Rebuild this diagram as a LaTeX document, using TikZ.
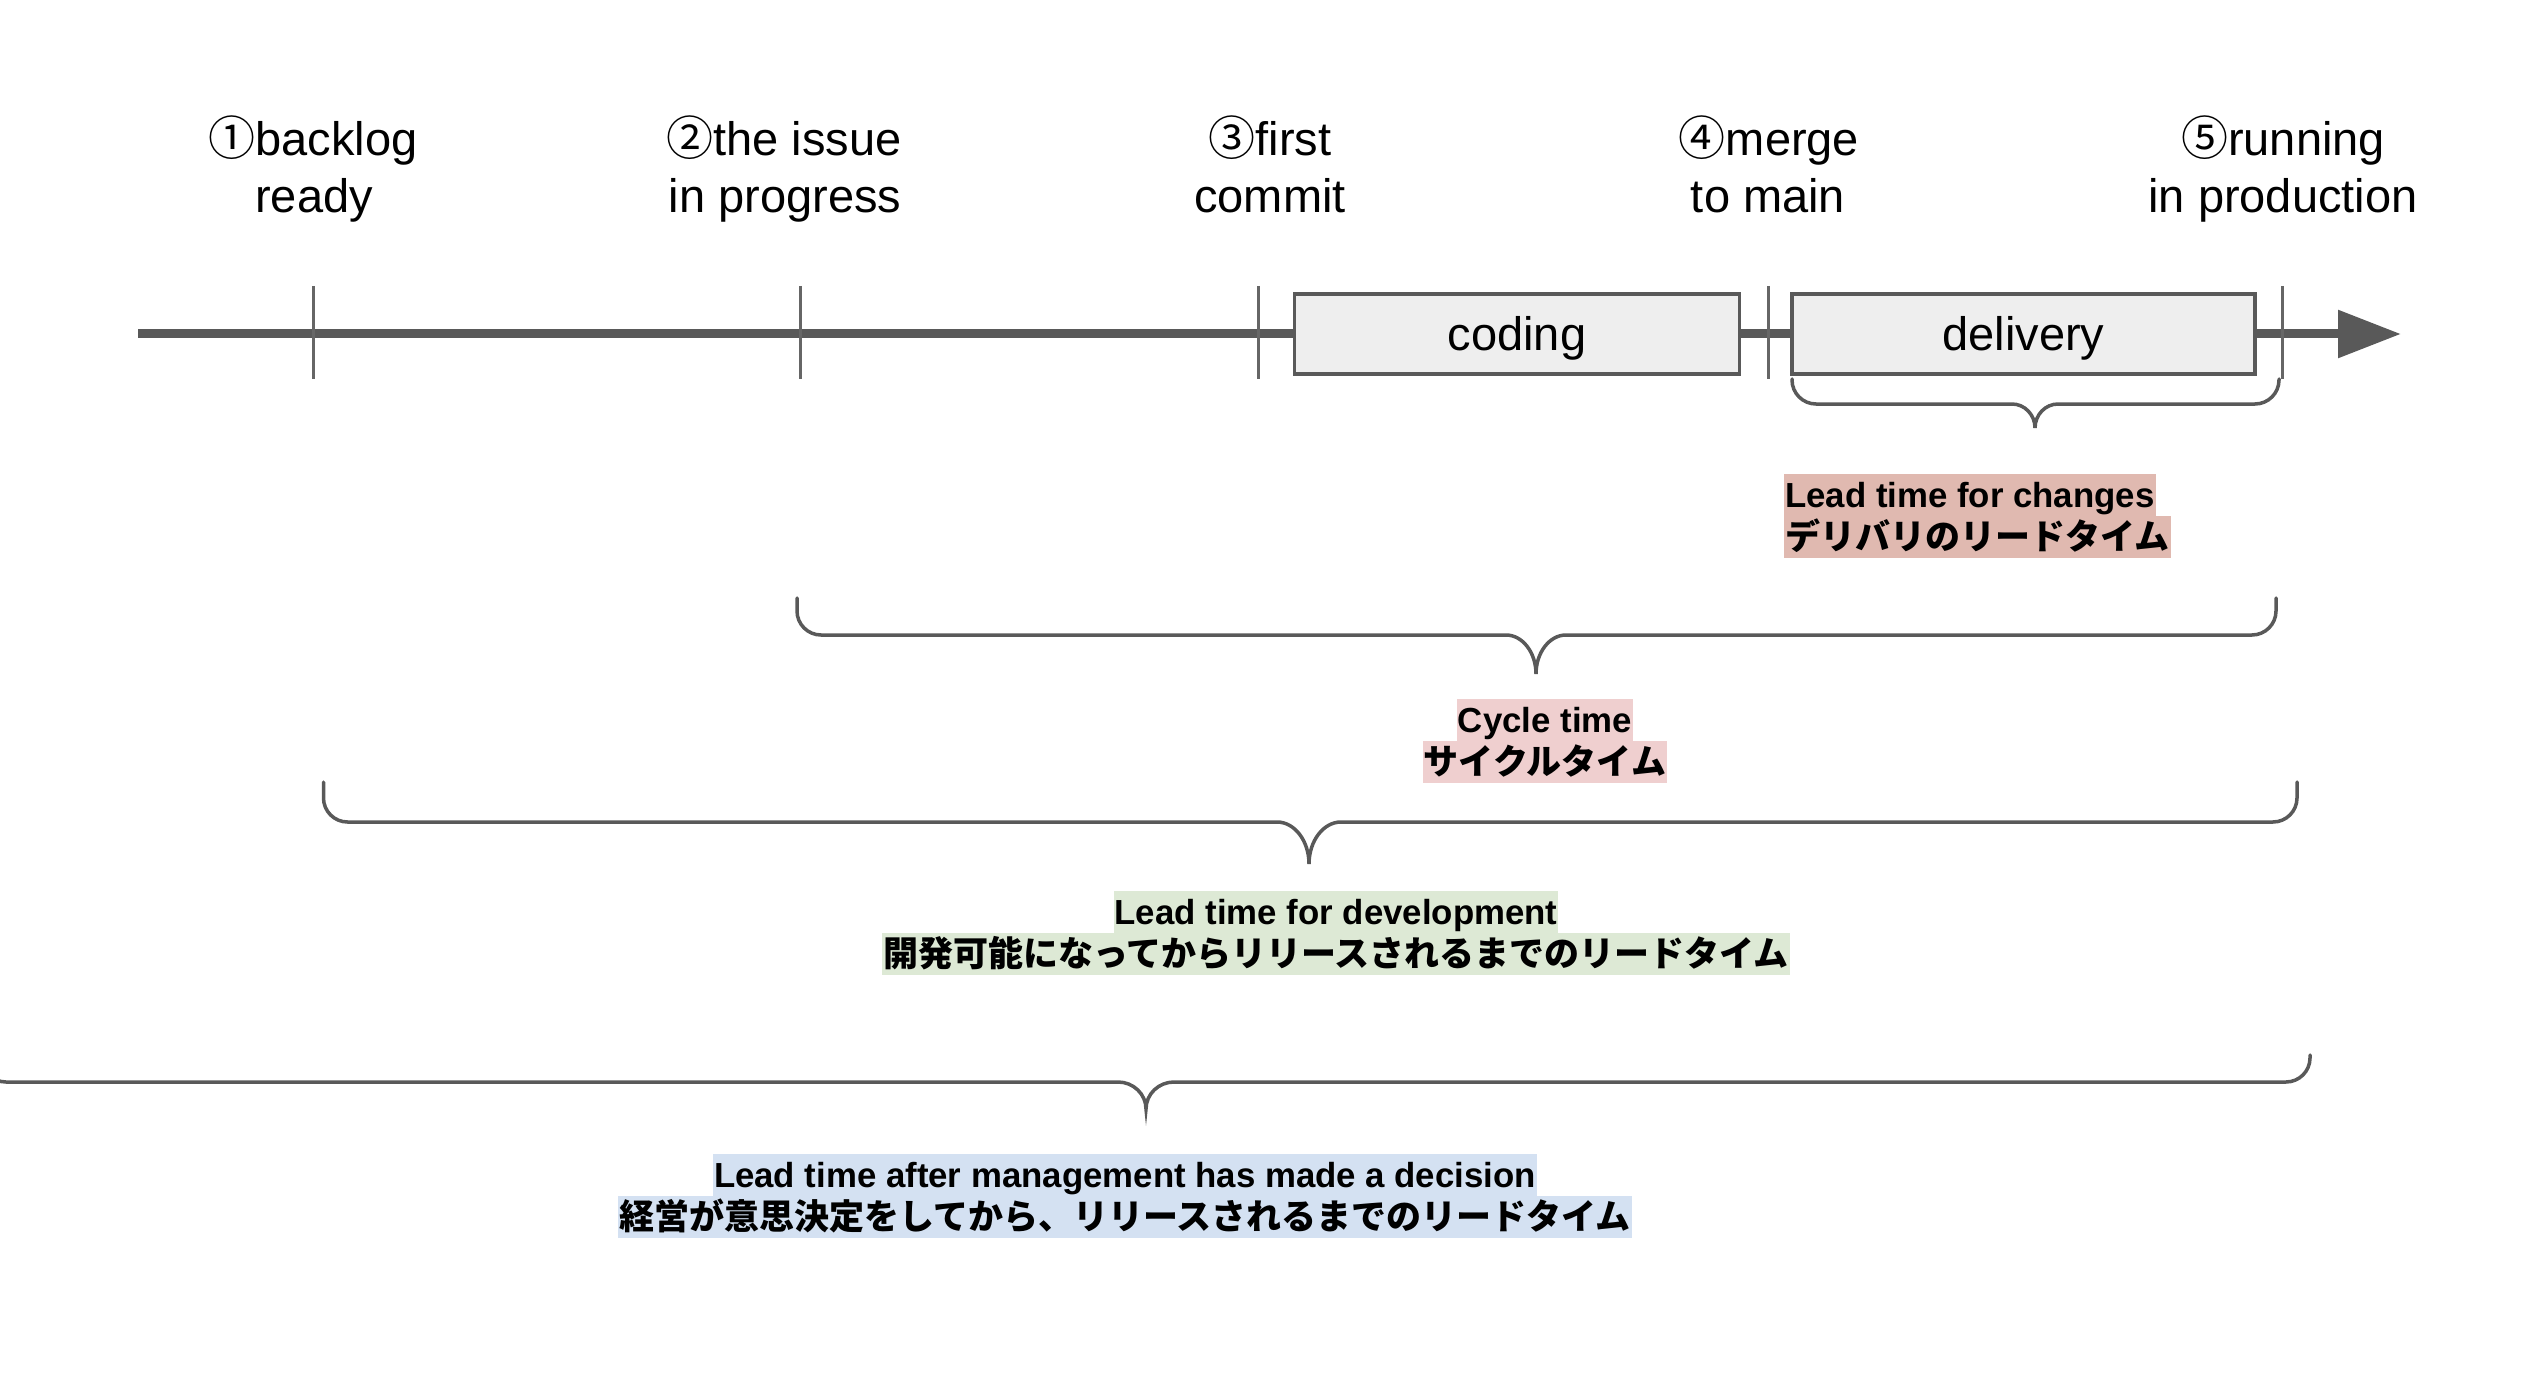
\documentclass[tikz,border=0pt]{standalone}
\usepackage{fontspec}
\setmainfont{Liberation Sans}
\newfontfamily\jp{Noto Sans CJK JP}
\usetikzlibrary{arrows.meta}
\definecolor{axis}{HTML}{595959}
\definecolor{tickc}{HTML}{666666}
\definecolor{boxfill}{HTML}{EEEEEE}
\definecolor{cchg}{HTML}{E0B9B0}
\definecolor{ccyc}{HTML}{EFCFCF}
\definecolor{cdev}{HTML}{DDE9D5}
\definecolor{cmgt}{HTML}{D4E1F2}
\newcommand{\mybrace}[7]{% x1, x2, ytop, yh, xtip, ytip, c
  \draw[bracest] (#1,#3) -- (#1,{#4-24}) .. controls (#1,{#4-10.8}) and ({#1+10.8},#4) .. ({#1+24},#4)
    -- ({#5-#7},#4) .. controls ({#5-0.45*#7},#4) and (#5,{#4+0.45*(#6-#4)}) .. (#5,#6)
    .. controls (#5,{#4+0.45*(#6-#4)}) and ({#5+0.45*#7},#4) .. ({#5+#7},#4)
    -- ({#2-24},#4) .. controls ({#2-10.8},#4) and (#2,{#4-10.8}) .. (#2,{#4-24}) -- (#2,#3);}
\begin{document}
\begin{tikzpicture}[x=1pt,y=-1pt,
  toplabel/.style={font=\fontsize{47}{57}\selectfont, anchor=base, inner sep=0pt},
  phase/.style={draw=axis, fill=boxfill, line width=3.5pt, inner sep=0pt,
    text height=57pt, text depth=23pt, font=\fontsize{47}{57}\selectfont},
  tickst/.style={draw=tickc, line width=3pt},
  bracest/.style={draw=axis, line width=3.5pt, line cap=round},
  hl/.style={font=\fontsize{34.8}{42}\selectfont\bfseries, anchor=base, inner xsep=1pt, inner ysep=0pt,
    text height=33pt, text depth=9pt},
  hljp/.style={hl, font=\fontsize{35}{42}\selectfont\jp\bfseries}]
\useasboundingbox (0,0) rectangle (2548,1396);
\clip (0,0) rectangle (2548,1396);

% timeline
\coordinate (tlstart) at (138,334);
\coordinate (tlend) at (2401,334);
\draw[axis, line width=9pt, -{Triangle[length=63pt,width=46pt]}] (tlstart) -- (tlend);

% ticks
\draw[tickst] (313.5,286) -- (313.5,379);
\draw[tickst] (800,286) -- (800,379);
\draw[tickst] (1258,286) -- (1258,379);
\draw[tickst] (1768,286) -- (1768,379);
\draw[tickst] (2282.5,286) -- (2282.5,379);

% phase boxes
\node[phase, minimum width=445pt] (coding) at (1517,334) {coding};
\node[phase, minimum width=463pt] (delivery) at (2023.5,334) {delivery};

% milestone labels
\node[toplabel] (m1a) at (313,156) {{\jp ①}backlog};
\node[toplabel] (m1b) at (314,213) {ready};
\node[toplabel] (m2a) at (784,156) {{\jp ②}the issue};
\node[toplabel] (m2b) at (785,213) {in progress};
\node[toplabel] (m3a) at (1270,156) {{\jp ③}first};
\node[toplabel] (m3b) at (1270,213) {commit};
\node[toplabel] (m4a) at (1769,156) {{\jp ④}merge};
\node[toplabel] (m4b) at (1768,213) {to main};
\node[toplabel] (m5a) at (2283,156) {{\jp ⑤}running};
\node[toplabel] (m5b) at (2283,213) {in production};

% braces
\mybrace{1792}{2279}{379}{404}{2035}{428}{23}
\mybrace{797}{2276}{598}{635}{1536}{674}{30}
\mybrace{323.5}{2297}{782}{822}{1309}{864}{32}
\mybrace{-18}{2310}{1055}{1082}{1146}{1109}{28}

% measure labels
\node[hl, fill=cchg, anchor=base west] (chg1) at (1784,507) {Lead time for changes};
\node[hljp, fill=cchg, anchor=base west] (chg2) at (1784,549) {デリバリのリードタイム};

\node[hl, fill=ccyc] (cyc1) at (1545,732) {Cycle time};
\node[hljp, fill=ccyc] (cyc2) at (1545,774) {サイクルタイム};

\node[hl, fill=cdev] (dev1) at (1336,924) {Lead time for development};
\node[hljp, fill=cdev] (dev2) at (1336,966) {開発可能になってからリリースされるまでのリードタイム};

\node[hl, fill=cmgt] (mgt1) at (1125,1187) {Lead time after management has made a decision};
\node[hljp, fill=cmgt] (mgt2) at (1125,1229) {経営が意思決定をしてから、リリースされるまでのリードタイム};
\end{tikzpicture}
\end{document}
